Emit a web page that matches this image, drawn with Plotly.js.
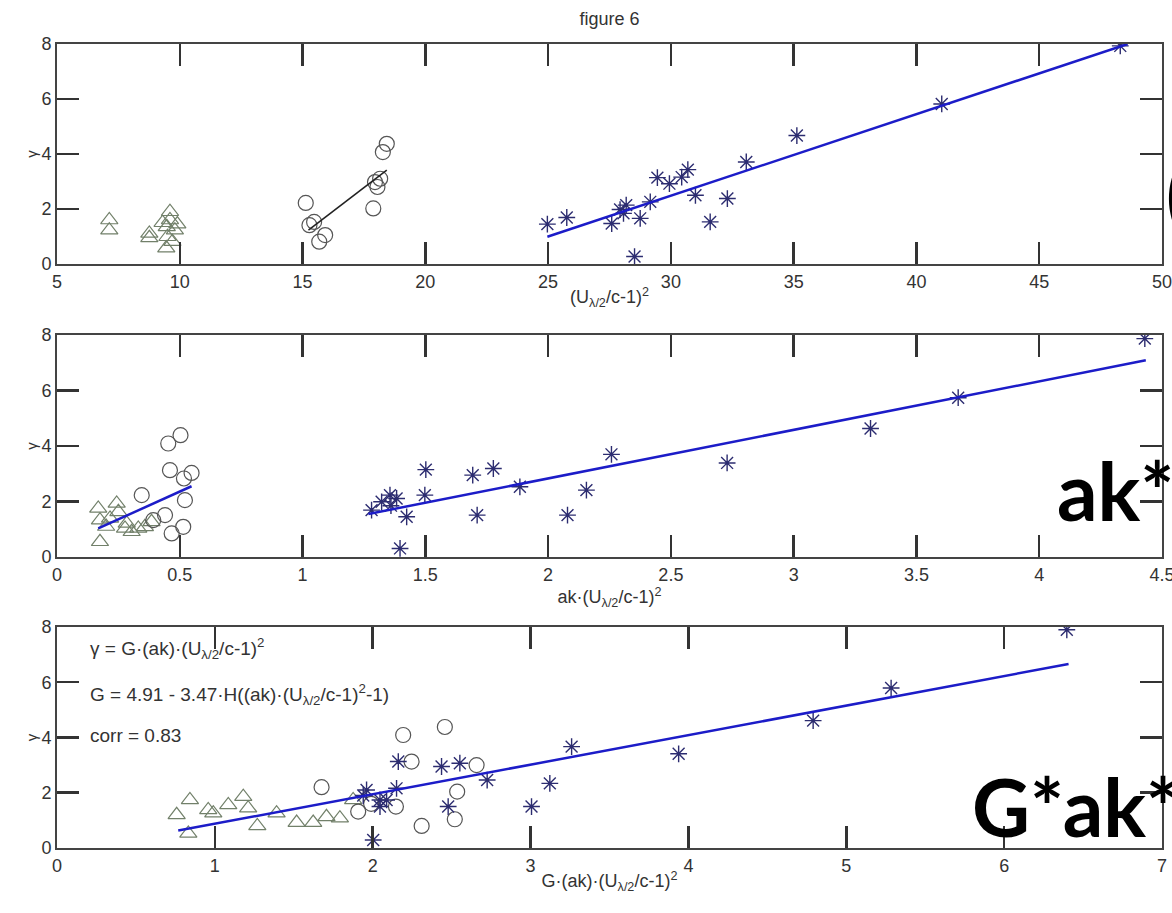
<!DOCTYPE html>
<html>
<head>
<meta charset="utf-8">
<script src="https://cdn.plot.ly/plotly-3.0.1.min.js"></script>
<style>html,body{margin:0;padding:0;background:#fff;}#chart{width:1172px;height:913px;}</style>
</head>
<body>
<div id="chart"></div>
<script>
// ---- Panel 1: gamma vs (U/c-1)^2 ----
const topTriX  = [7.13, 7.13, 8.76, 8.76, 9.6, 9.6, 9.47, 9.8, 9.5, 9.45, 9.7, 9.9, 9.3];
const topTriY  = [1.6, 1.23, 1.11, 0.95, 1.9, 1.6, 1.35, 1.23, 0.99, 0.58, 0.81, 1.45, 1.5];
const topCircX = [15.13, 15.28, 15.47, 15.92, 15.68, 17.88, 17.95, 18.05, 18.16, 18.27, 18.43];
const topCircY = [2.22, 1.41, 1.53, 1.05, 0.81, 2.02, 2.98, 2.8, 3.1, 4.07, 4.37];
const topCircFitX = [15.24, 18.43];
const topCircFitY = [1.23, 3.41];
const topStarX = [24.97, 25.76, 27.59, 27.93, 28.18, 28.07, 28.52, 28.75, 29.16, 29.45, 29.94, 30.44, 30.69, 31.0, 31.6, 32.3, 33.07, 35.13, 41.03, 48.3];
const topStarY = [1.45, 1.69, 1.47, 1.98, 2.14, 1.84, 0.27, 1.66, 2.26, 3.14, 2.92, 3.16, 3.43, 2.5, 1.53, 2.38, 3.71, 4.67, 5.82, 7.93];
const topStarFitX = [24.97, 48.6];
const topStarFitY = [0.99, 8.0];

// ---- Panel 2: gamma vs ak*(U/c-1)^2 ----
const midTriX  = [0.168, 0.175, 0.175, 0.243, 0.25, 0.216, 0.284, 0.304, 0.331, 0.358, 0.385, 0.277, 0.2];
const midTriY  = [1.75, 1.33, 0.55, 1.93, 1.63, 1.39, 1.21, 0.91, 1.03, 1.09, 1.27, 1.03, 1.1];
const midCircX = [0.345, 0.453, 0.503, 0.46, 0.517, 0.548, 0.521, 0.44, 0.392, 0.514, 0.467];
const midCircY = [2.23, 4.09, 4.39, 3.13, 2.83, 3.03, 2.05, 1.51, 1.33, 1.09, 0.85];
const midLowFitX = [0.168, 0.548];
const midLowFitY = [1.03, 2.55];
const midStarX = [1.281, 1.322, 1.356, 1.383, 1.36, 1.424, 1.397, 1.498, 1.502, 1.693, 1.711, 1.777, 1.885, 2.079, 2.156, 2.258, 2.729, 3.313, 3.67, 4.43];
const midStarY = [1.69, 1.99, 2.23, 2.11, 1.85, 1.45, 0.31, 2.23, 3.15, 2.95, 1.51, 3.19, 2.53, 1.51, 2.41, 3.7, 3.39, 4.63, 5.74, 7.87];
const midStarFitX = [1.268, 4.434];
const midStarFitY = [1.55, 7.09];

// ---- Panel 3: gamma vs G*(ak)*(U/c-1)^2 ----
const botTriX  = [0.758, 0.842, 0.832, 0.958, 0.99, 1.085, 1.18, 1.211, 1.269, 1.391, 1.518, 1.623, 1.707, 1.792, 1.876];
const botTriY  = [1.2, 1.74, 0.53, 1.38, 1.26, 1.56, 1.86, 1.44, 0.8, 1.26, 0.92, 0.92, 1.13, 1.08, 1.74];
const botCircX = [1.676, 1.908, 2.147, 2.193, 2.246, 2.457, 2.658, 2.535, 2.52, 2.31, 1.99];
const botCircY = [2.2, 1.32, 1.5, 4.09, 3.13, 4.38, 3.0, 2.04, 1.04, 0.8, 1.6];
const botStarX = [1.94, 1.961, 2.003, 2.046, 2.046, 2.088, 2.151, 2.162, 2.436, 2.478, 2.552, 2.725, 3.006, 3.122, 3.26, 3.938, 4.79, 5.284, 6.397];
const botStarY = [1.9, 2.1, 0.29, 1.74, 1.5, 1.74, 2.16, 3.13, 2.95, 1.5, 3.07, 2.46, 1.5, 2.34, 3.67, 3.41, 4.61, 5.79, 7.9];
const botFitX = [0.768, 6.408];
const botFitY = [0.63, 6.66];

const yTicks = [0, 2, 4, 6, 8];
const topXTicks = [5, 10, 15, 20, 25, 30, 35, 40, 45, 50];
const midXTicks = [0, 0.5, 1, 1.5, 2, 2.5, 3, 3.5, 4, 4.5];
const botXTicks = [0, 1, 2, 3, 4, 5, 6, 7];

const titleText = 'figure 6';
const xTitles = [
  '(U<sub>λ/2</sub>/c-1)<sup>2</sup>',
  'ak·(U<sub>λ/2</sub>/c-1)<sup>2</sup>',
  'G·(ak)·(U<sub>λ/2</sub>/c-1)<sup>2</sup>'
];
const eqLines = [
  'γ = G·(ak)·(U<sub>λ/2</sub>/c-1)<sup>2</sup>',
  'G = 4.91 - 3.47·H((ak)·(U<sub>λ/2</sub>/c-1)<sup>2</sup>-1)',
  'corr = 0.83'
];
const bigLabels = ['(', 'ak*', 'G*ak*'];

// ---- styles ----
const TRI = {symbol: 'triangle-up-open', size: 15, color: '#72806a', line: {color: '#72806a', width: 1.2}};
const CIRC = {symbol: 'circle-open', size: 15, color: '#555555', line: {color: '#555555', width: 1.2}};
const STAR = {symbol: 'asterisk-open', size: 14, color: '#2c2c70', line: {color: '#2c2c70', width: 1.4}};
const BLUE = {color: '#1c1cc8', width: 2.5};
const BLACK = {color: '#222222', width: 1.6};

function pts(x, y, m, xa, ya) {
  return {x: x, y: y, type: 'scatter', mode: 'markers', marker: m, xaxis: xa, yaxis: ya, showlegend: false, hoverinfo: 'skip'};
}
function ln(x, y, l, xa, ya) {
  return {x: x, y: y, type: 'scatter', mode: 'lines', line: l, xaxis: xa, yaxis: ya, showlegend: false, hoverinfo: 'skip'};
}

const data = [
  pts(topTriX, topTriY, TRI, 'x', 'y'),
  pts(topCircX, topCircY, CIRC, 'x', 'y'),
  ln(topCircFitX, topCircFitY, BLACK, 'x', 'y'),
  pts(topStarX, topStarY, STAR, 'x', 'y'),
  ln(topStarFitX, topStarFitY, BLUE, 'x', 'y'),

  pts(midTriX, midTriY, TRI, 'x2', 'y2'),
  pts(midCircX, midCircY, CIRC, 'x2', 'y2'),
  ln(midLowFitX, midLowFitY, BLUE, 'x2', 'y2'),
  pts(midStarX, midStarY, STAR, 'x2', 'y2'),
  ln(midStarFitX, midStarFitY, BLUE, 'x2', 'y2'),

  pts(botTriX, botTriY, TRI, 'x3', 'y3'),
  pts(botCircX, botCircY, CIRC, 'x3', 'y3'),
  pts(botStarX, botStarY, STAR, 'x3', 'y3'),
  ln(botFitX, botFitY, BLUE, 'x3', 'y3')
];

const FONT = 'Liberation Sans, Arial, sans-serif';
const tickFont = {family: FONT, size: 18, color: '#333'};

function xAxis(range, ticks, title, anchor) {
  return {
    range: range, tickvals: ticks, ticktext: ticks.map(String),
    ticks: 'inside', ticklen: 22, tickwidth: 2.5, tickcolor: '#333',
    showline: true, linecolor: '#444', linewidth: 2, mirror: 'allticks',
    showgrid: false, zeroline: false, tickfont: tickFont, anchor: anchor,
    ticklabeloverflow: 'allow',
    domain: [0, 1],
    title: {text: title, font: {family: FONT, size: 18, color: '#333'}, standoff: 0}
  };
}
function yAxis(domain, anchor) {
  return {
    range: [0, 8], tickvals: yTicks, ticktext: yTicks.map(String),
    ticks: 'inside', ticklen: 22, tickwidth: 2.5, tickcolor: '#333',
    showline: true, linecolor: '#444', linewidth: 2, mirror: 'allticks',
    showgrid: false, zeroline: false, tickfont: tickFont, anchor: anchor,
    ticklabeloverflow: 'allow',
    domain: domain,
    title: {text: 'γ', font: {family: FONT, size: 15, color: '#333'}, standoff: 0}
  };
}

const annotations = [];
const eqY = [0.248, 0.191, 0.1405];
eqLines.forEach(function (t, i) {
  annotations.push({text: t, xref: 'paper', yref: 'paper', x: 0.028, y: eqY[i],
    xanchor: 'left', yanchor: 'middle', showarrow: false,
    font: {family: FONT, size: 19, color: '#333'}});
});
const bigPos = [[1.0018, 0.815], [0.903, 0.445], [0.826, 0.052]];
bigLabels.forEach(function (t, i) {
  annotations.push({text: '<b>' + t + '</b>', xref: 'paper', yref: 'paper', x: bigPos[i][0], y: bigPos[i][1],
    xanchor: 'left', yanchor: 'middle', showarrow: false,
    font: {family: 'Lato, Open Sans, sans-serif', size: 80, color: '#000'}});
});

const layout = {
  width: 1172, height: 913,
  margin: {l: 57, r: 10, t: 44, b: 65},
  paper_bgcolor: '#fff', plot_bgcolor: '#fff',
  title: {text: titleText, x: 0.52, xanchor: 'center', y: 0.98, yanchor: 'middle',
    font: {family: FONT, size: 18, color: '#333'}},
  xaxis: xAxis([5, 50], topXTicks, xTitles[0], 'y'),
  yaxis: yAxis([0.7264, 1.0], 'x'),
  xaxis2: xAxis([0, 4.5], midXTicks, xTitles[1], 'y2'),
  yaxis2: yAxis([0.3619, 0.6381], 'x2'),
  xaxis3: xAxis([0, 7], botXTicks, xTitles[2], 'y3'),
  yaxis3: yAxis([0, 0.2749], 'x3'),
  annotations: annotations
};

Plotly.newPlot('chart', data, layout, {staticPlot: true, displayModeBar: false});
</script>
</body>
</html>
